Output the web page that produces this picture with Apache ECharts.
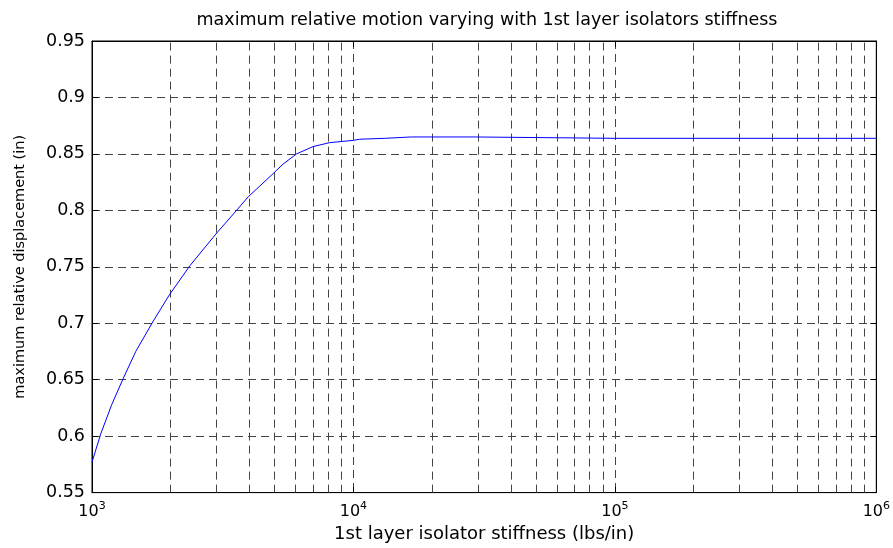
<!DOCTYPE html>
<html>
<head>
<meta charset="utf-8">
<script src="https://cdn.jsdelivr.net/npm/echarts@6/dist/echarts.min.js"></script>
<style>
html,body{margin:0;padding:0;background:#fff;}
#chart{width:893px;height:548px;}
</style>
</head>
<body>
<div id="chart"></div>
<script>
// Data
const stiffness = [1000, 1080, 1190, 1310, 1470, 1716, 1975, 2369, 2977, 3572, 3958, 4850, 5383, 6058, 7010, 8120, 10000, 10570, 13170, 16660, 29080, 29500, 100000, 1000000];
const displacement = [0.577, 0.602, 0.628, 0.650, 0.675, 0.702, 0.725, 0.751, 0.779, 0.800, 0.812, 0.831, 0.841, 0.850, 0.8565, 0.860, 0.862, 0.863, 0.8638, 0.865, 0.865, 0.8638, 0.8638, 0.8638];
const minorGridX = [2000, 3000, 4000, 5000, 6000, 7000, 8000, 9000,
                    20000, 30000, 40000, 50000, 60000, 70000, 80000, 90000,
                    200000, 300000, 400000, 500000, 600000, 700000, 800000, 900000];
const yTicks = { min: 0.55, max: 0.95, step: 0.05 };
const titleText = 'maximum relative motion varying with 1st layer isolators stiffness';
const xName = '1st layer isolator stiffness (lbs/in)';
const yName = 'maximum relative displacement (in)';

const FONT = 'DejaVu Sans';
const dash = [8, 5];
const gridColor = '#444';

const chart = echarts.init(document.getElementById('chart'), null, {renderer: 'canvas'});
const seriesData = stiffness.map((k, i) => [k, displacement[i]]);

const hiddenX = {
  type: 'log', logBase: 10, min: 1000, max: 1000000, position: 'top',
  axisLine: {show: true, lineStyle: {color: '#000', width: 1}},
  axisTick: {show: true, inside: true, length: 6, lineStyle: {color: '#000'}},
  axisLabel: {show: false}, splitLine: {show: false}
};
const hiddenY = {
  type: 'value', min: yTicks.min, max: yTicks.max, interval: yTicks.step, position: 'right',
  axisLine: {show: true, lineStyle: {color: '#000', width: 1}},
  axisTick: {show: true, inside: true, length: 6, lineStyle: {color: '#000'}},
  axisLabel: {show: false}, splitLine: {show: false}
};

chart.setOption({
  animation: false,
  backgroundColor: '#fff',
  title: {
    text: titleText,
    left: 482,
    top: 6,
    textAlign: 'center',
    textStyle: {fontFamily: FONT, fontSize: 17.5, fontWeight: 'normal', color: '#000'}
  },
  grid: {left: 92, right: 16, top: 41, bottom: 52, show: true, borderColor: '#000', borderWidth: 1, backgroundColor: '#fff'},
  xAxis: [{
    type: 'log',
    logBase: 10,
    min: 1000,
    max: 1000000,
    position: 'bottom',
    name: xName,
    nameLocation: 'middle',
    nameGap: 31,
    nameTextStyle: {fontFamily: FONT, fontSize: 18, color: '#000'},
    axisLine: {show: true, lineStyle: {color: '#000', width: 1}},
    axisTick: {show: true, inside: true, length: 6, lineStyle: {color: '#000'}},
    splitLine: {show: true, lineStyle: {color: gridColor, type: dash, width: 1}},
    axisLabel: {
      margin: 8,
      formatter: function (v) {
        const e = Math.round(Math.log10(v));
        return '{b|10}{sup|' + e + '}';
      },
      rich: {
        b: {fontFamily: FONT, fontSize: 16, color: '#000'},
        sup: {fontFamily: FONT, fontSize: 11, color: '#000', padding: [0, 0, 12, 0]}
      }
    }
  }, hiddenX],
  yAxis: [{
    type: 'value',
    min: yTicks.min,
    max: yTicks.max,
    interval: yTicks.step,
    position: 'left',
    name: yName,
    nameLocation: 'middle',
    nameGap: 64,
    nameTextStyle: {fontFamily: FONT, fontSize: 14.5, color: '#000'},
    axisLine: {show: true, lineStyle: {color: '#000', width: 1}},
    axisTick: {show: true, inside: true, length: 6, lineStyle: {color: '#000'}},
    splitLine: {show: true, lineStyle: {color: gridColor, type: dash, width: 1}},
    axisLabel: {
      margin: 7,
      fontFamily: FONT, fontSize: 17.5, color: '#000',
      formatter: v => String(+(+v).toFixed(2))
    }
  }, hiddenY],
  series: [{
    type: 'line',
    xAxisIndex: 0,
    yAxisIndex: 0,
    data: seriesData,
    showSymbol: false,
    symbol: 'none',
    smooth: false,
    lineStyle: {color: '#0000ff', width: 1},
    itemStyle: {color: '#0000ff'},
    z: 5,
    markLine: {
      silent: true,
      symbol: ['none', 'none'],
      label: {show: false},
      lineStyle: {color: gridColor, type: dash, width: 1},
      z: 1,
      data: minorGridX.map(v => ({xAxis: v}))
    }
  }]
});
</script>
</body>
</html>
